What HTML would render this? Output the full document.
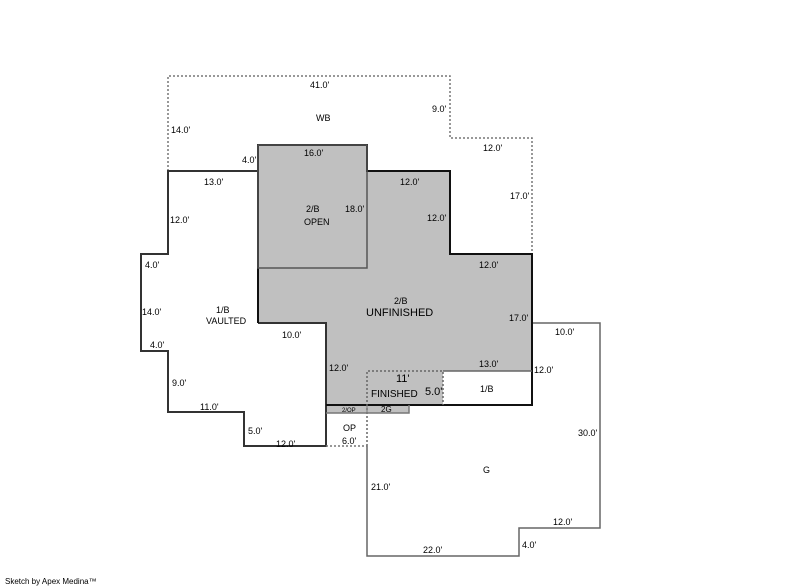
<!DOCTYPE html>
<html><head><meta charset="utf-8"><style>
html,body{margin:0;padding:0;background:#fff;}
svg{display:block;}
text{font-family:"Liberation Sans",Arial,sans-serif;font-size:9px;fill:#000;}
</style></head><body>
<svg width="800" height="587" viewBox="0 0 800 587" xmlns="http://www.w3.org/2000/svg">
<!-- gray fills -->
<g fill="#c0c0c0" stroke="none">
<rect x="258" y="145" width="109" height="123"/>
<polygon points="258,268 367,268 367,171 450,171 450,254 532,254 532,405 326,405 326,323 258,323"/>
<rect x="326" y="405" width="83" height="8"/>
</g>
<rect x="443" y="371" width="89" height="34" fill="#fff"/>
<!-- WB dashed -->
<polyline points="168,171 168,76 450,76 450,138 532,138 532,254" fill="none" stroke="#777" stroke-width="1.5" stroke-dasharray="2,2"/>
<!-- G outline -->
<polyline points="532,323 600,323 600,528 519,528 519,556 367,556 367,446" fill="none" stroke="#666" stroke-width="1.5"/>
<!-- 1/B vaulted outline -->
<polyline points="258,171 168,171 168,254 141,254 141,351 168,351 168,412 244,412 244,446 326,446 326,323 258,323" fill="none" stroke="#333" stroke-width="2"/>
<!-- gray area outline -->
<polyline points="258,323 258,145 367,145 367,171 450,171 450,254 532,254 532,405 326,405" fill="none" stroke="#111" stroke-width="2"/>
<rect x="258" y="145" width="109" height="123" fill="none" stroke="#555" stroke-width="1.5"/>
<line x1="443" y1="371" x2="532" y2="371" stroke="#666" stroke-width="1.5"/>
<!-- finished dashed -->
<polyline points="367,446 367,371 443,371 443,405" fill="none" stroke="#666" stroke-width="1.5" stroke-dasharray="2,2"/>
<!-- strip -->
<polyline points="326,413 409,413 409,405" fill="none" stroke="#777" stroke-width="1.5"/>
<line x1="367" y1="405" x2="367" y2="413" stroke="#777" stroke-width="1"/>
<line x1="326" y1="446" x2="367" y2="446" stroke="#777" stroke-width="1.5" stroke-dasharray="2,2"/>
<!-- labels -->
<text x="310" y="88">41.0'</text>
<text x="432" y="112">9.0'</text>
<text x="316" y="121">WB</text>
<text x="171" y="133">14.0'</text>
<text x="483" y="151">12.0'</text>
<text x="242" y="163">4.0'</text>
<text x="304" y="156">16.0'</text>
<text x="204" y="185">13.0'</text>
<text x="400" y="185">12.0'</text>
<text x="510" y="199">17.0'</text>
<text x="306" y="212">2/B</text>
<text x="304" y="225">OPEN</text>
<text x="345" y="212">18.0'</text>
<text x="170" y="223">12.0'</text>
<text x="427" y="221">12.0'</text>
<text x="479" y="268">12.0'</text>
<text x="145" y="268">4.0'</text>
<text x="394" y="304">2/B</text>
<text x="366" y="316" style="font-size:11px">UNFINISHED</text>
<text x="142" y="315">14.0'</text>
<text x="216" y="313">1/B</text>
<text x="206" y="324">VAULTED</text>
<text x="509" y="321">17.0'</text>
<text x="555" y="335">10.0'</text>
<text x="282" y="338">10.0'</text>
<text x="150" y="348">4.0'</text>
<text x="329" y="371">12.0'</text>
<text x="479" y="367">13.0'</text>
<text x="534" y="373">12.0'</text>
<text x="396" y="382" style="font-size:11px">11'</text>
<text x="172" y="386">9.0'</text>
<text x="371" y="397" style="font-size:10px">FINISHED</text>
<text x="425" y="395" style="font-size:11px">5.0'</text>
<text x="480" y="392">1/B</text>
<text x="200" y="410">11.0'</text>
<text x="342" y="412" style="font-size:6px">2/OP</text>
<text x="381" y="412" style="font-size:8px">2G</text>
<text x="343" y="431">OP</text>
<text x="248" y="434">5.0'</text>
<text x="578" y="436">30.0'</text>
<text x="276" y="447">12.0'</text>
<text x="342" y="444">6.0'</text>
<text x="483" y="473">G</text>
<text x="371" y="490">21.0'</text>
<text x="553" y="525">12.0'</text>
<text x="522" y="548">4.0'</text>
<text x="423" y="553">22.0'</text>
<text x="5" y="584" style="font-size:8px">Sketch by Apex Medina™</text>
</svg>
</body></html>
